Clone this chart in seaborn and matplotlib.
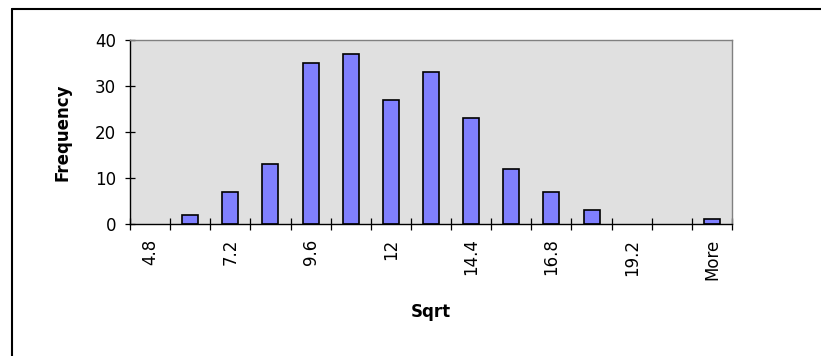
import matplotlib
matplotlib.use("Agg")
import matplotlib.pyplot as plt
import seaborn as sns
import pandas as pd
from matplotlib.lines import Line2D
from matplotlib.ticker import FixedLocator

# ---- data ----
bins = ["4.8", "6", "7.2", "8.4", "9.6", "10.8", "12", "13.2", "14.4",
        "15.6", "16.8", "18", "19.2", "20.4", "More"]
frequency = [0, 2, 7, 13, 35, 37, 27, 33, 23, 12, 7, 3, 0, 0, 1]
tick_labels = ["4.8", "7.2", "9.6", "12", "14.4", "16.8", "19.2", "More"]
y_ticks = [0, 10, 20, 30, 40]

sns.set_theme(style="white")
plt.rcParams['font.family'] = ['DejaVu Sans']

W, H = 821, 356
fig = plt.figure(figsize=(W / 100, H / 100), dpi=100)
fig.patch.set_facecolor("white")
ax = fig.add_axes([130 / W, 1 - 224 / H, 602 / W, 184 / H])

df = pd.DataFrame({"Sqrt": bins, "Frequency": frequency})
sns.barplot(data=df, x="Sqrt", y="Frequency", order=bins, color="#8080FF",
            saturation=1, edgecolor="black", linewidth=1.2, width=0.4, ax=ax)

# empty bins draw nothing (as in the original)
for p in ax.patches:
    if p.get_height() == 0:
        p.set_visible(False)

ax.set_facecolor("#E0E0E0")
ax.set_xlim(-0.5, len(bins) - 0.5)
ax.set_ylim(0, 40)

# x ticks: labels at every other category, tick marks at boundaries
major_pos = [bins.index(t) for t in tick_labels]
ax.set_xticks(major_pos)
ax.set_xticklabels(tick_labels, rotation=90)
ax.xaxis.set_minor_locator(FixedLocator([i - 0.5 for i in range(len(bins) + 1)]))
ax.tick_params(axis="x", which="major", length=0, pad=10.5, labelsize=12,
               bottom=True, labelcolor="black")
ax.tick_params(axis="x", which="minor", direction="inout", length=8.6,
               width=0.9, color="black", bottom=True)

ax.set_yticks(y_ticks)
ax.tick_params(axis="y", which="major", direction="inout", length=7.2,
               width=0.9, color="black", left=True, pad=6.5, labelsize=12,
               labelcolor="black")

ax.set_xlabel("Sqrt", fontsize=12, fontweight="bold", color="black")
ax.xaxis.set_label_coords(0.5, (224 - 303) / 184)
ax.set_ylabel("Frequency", fontsize=12, fontweight="bold", color="black")
ax.yaxis.set_label_coords((71 - 130) / 602, 0.5)

for s in ["left", "bottom"]:
    ax.spines[s].set_color("black")
    ax.spines[s].set_linewidth(1.0)
for s in ["top", "right"]:
    ax.spines[s].set_color("#808080")
    ax.spines[s].set_linewidth(1.0)

# outer chart frame (only left and top visible)
fig.add_artist(Line2D([12 / W, 12 / W], [0, 1 - 9.3 / H], color="black",
                      lw=1.5, transform=fig.transFigure))
fig.add_artist(Line2D([12 / W, 1], [1 - 9.3 / H, 1 - 9.3 / H], color="black",
                      lw=1.5, transform=fig.transFigure))

fig.savefig("out.png", dpi=100)
